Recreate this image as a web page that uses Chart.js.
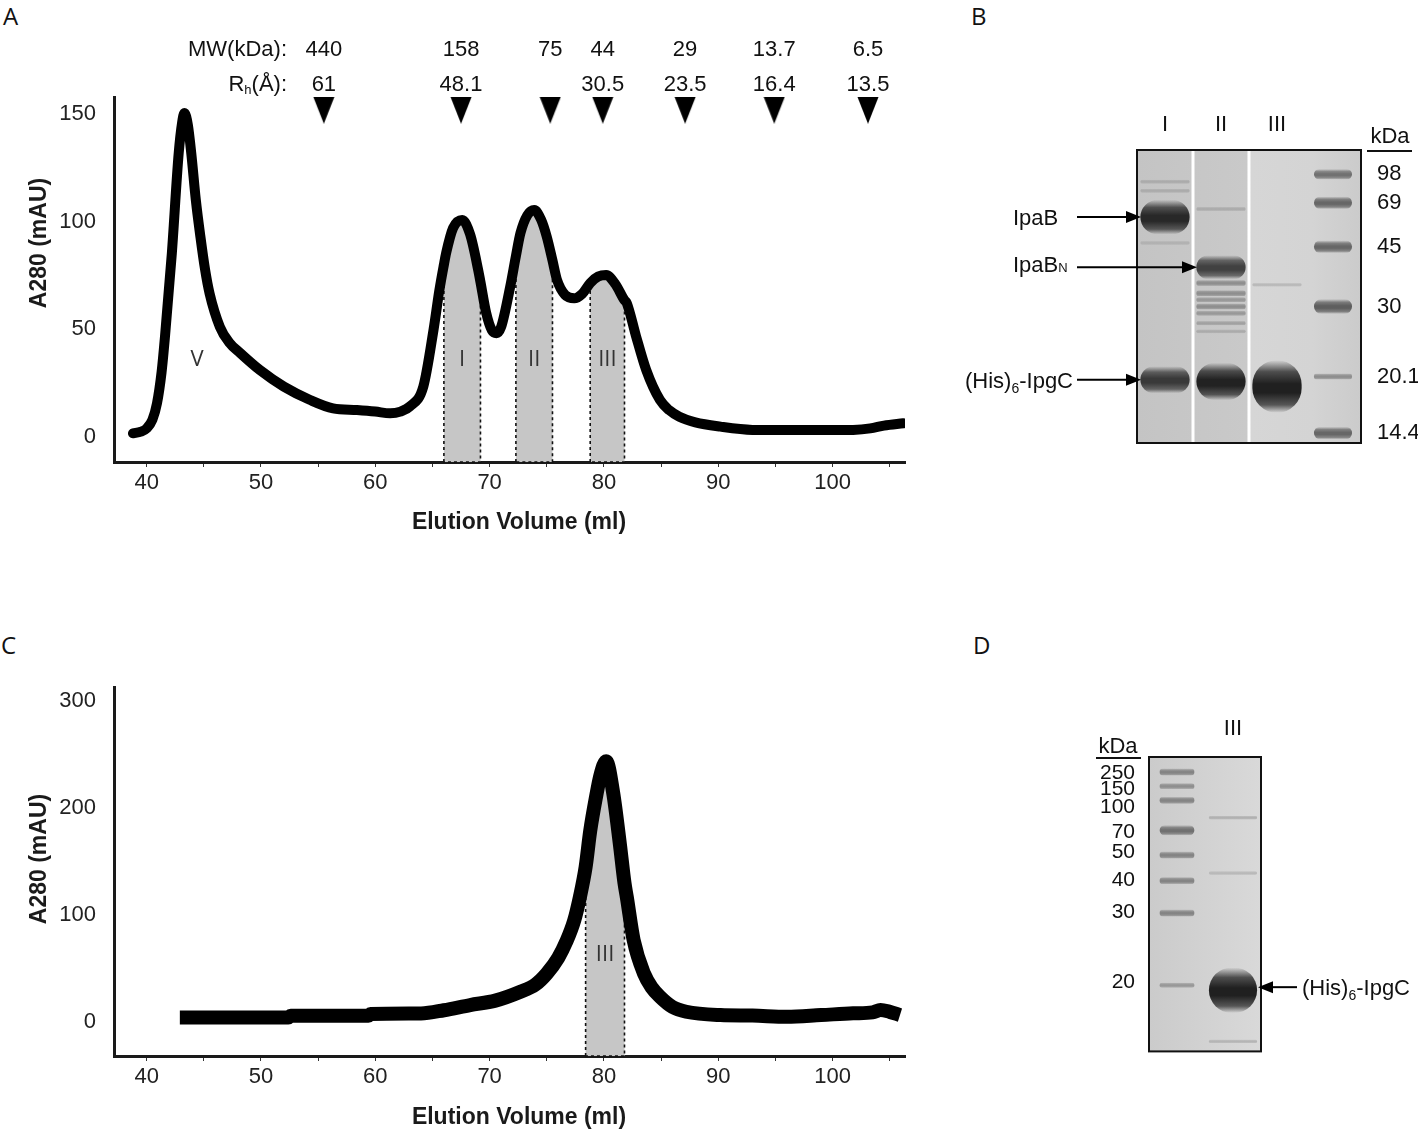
<!DOCTYPE html>
<html><head><meta charset="utf-8">
<script src="https://cdn.jsdelivr.net/npm/chart.js@4/dist/chart.umd.min.js"></script>
<style>
html,body{margin:0;padding:0;background:#fff;}
body{width:1418px;height:1133px;position:relative;overflow:hidden;}
canvas{position:absolute;}
.pl{position:absolute;font-family:'Open Sans','Liberation Sans',sans-serif;font-size:24px;color:#111;line-height:1;}
</style></head><body>
<div class="pl" style="left:3px;top:4px">A</div>
<div class="pl" style="left:971px;top:4px">B</div>
<div class="pl" style="left:1px;top:633px">C</div>
<div class="pl" style="left:973px;top:633px">D</div>
<canvas id="cA" width="950" height="560" style="left:0;top:0;width:950px;height:560px"></canvas>
<canvas id="cC" width="950" height="533" style="left:0;top:600px;width:950px;height:533px"></canvas>
<canvas id="cB" width="468" height="370" style="left:950px;top:100px;width:468px;height:370px"></canvas>
<canvas id="cD" width="358" height="370" style="left:1060px;top:700px;width:358px;height:370px"></canvas>
<script>
// ---------------- DATA ----------------
// Panel A chromatogram (elution volume ml, A280 mAU)
const volA = [38.8,39.5,40.0,40.5,40.9,41.3,41.6,42.2,42.8,43.1,43.3,43.6,43.9,44.3,44.7,45.1,45.5,46.4,47.2,48.2,49.9,52.0,54.3,56.3,58.4,60.0,61.3,62.2,63.0,64.2,65.1,65.6,66.0,66.2,66.8,67.6,68.3,69.0,69.2,69.7,70.2,70.6,71.0,71.8,72.3,72.7,73.3,73.9,74.5,75.0,75.5,75.9,76.6,77.4,78.1,78.8,79.5,80.2,81.0,81.8,82.0,82.8,83.7,84.9,85.7,86.6,88.0,90.2,93.0,96.0,100.0,101.8,103.3,104.5,106.2];
const absA = [1.7,2.5,4.0,8,15.6,30,46.6,85.3,131.8,146,150.5,145,131.8,110,93.0,78,66.7,51.2,44,38.9,31.1,23.4,17.2,13.3,12.5,11.8,11.0,11.8,14.1,23.4,50,68,80,85.5,97,100.8,94,77.6,72,57.6,49.5,48.2,51,69.8,84,94.7,103,105.4,101,93.0,82,72.9,66,64.4,66.5,71.5,74.5,75.2,71,63.5,62.2,47,31.1,17.2,12.5,9.4,6.8,4.8,3.3,3.2,3.2,3.3,4.0,5.3,6.4];
const regStartA = [66.0, 72.3, 78.8];
const regEndA = [69.2, 75.5, 81.8];
const regNameA = ['I', 'II', 'III'];
const peakNameA = ['V'];
const peakVolA = [44.4];
// Gel-filtration standards
const stdVol = [55.5, 67.5, 75.3, 79.9, 87.1, 94.9, 103.1];
const stdMW = ['440', '158', '75', '44', '29', '13.7', '6.5'];
const stdRh = ['61', '48.1', '', '30.5', '23.5', '16.4', '13.5'];
const standardMarkerLevel = 152;

// Panel C chromatogram
const volC = [42.9,47.0,52.4,52.6,59.4,59.6,64.0,66.0,68.3,70.5,72.7,74.0,75.0,76.0,76.7,77.4,77.9,78.4,78.8,79.3,79.7,80.2,80.8,81.4,81.8,82.0,82.6,83.5,84.2,84.9,86.0,87.2,90.2,93.0,96.0,99.0,101.8,103.5,104.2,105.0,105.9];
const absC = [4.2,4.2,4.3,5.8,5.9,7.5,8,11,15.9,20,28.3,35,45.3,60,75,95,117,145,178.6,210,231,244,215,166,130,117,76.6,45.5,32,23.6,14,9.6,6.5,6,4.9,6.5,8.1,9,11.2,9.5,6.5];
const regStartC = [78.4];
const regEndC = [81.8];
const regNameC = ['III'];

// Panel B gel (migration: 0 = top of gel, 100 = bottom)
const gelBLanes = ['I', 'II', 'III', 'M'];
const gelBLaneLabels = ['I', 'II', 'III', ''];
const gelBMarkerKDa = ['98', '69', '45', '30', '20.1', '14.4'];
const gelBMarkerMig = [8.3, 18.0, 33.0, 53.4, 77.3, 96.6];
const gelBMarkerAmt = [0.45, 0.5, 0.5, 0.55, 0.3, 0.5];
const gelBBandLane = ['I','I','I','I','I','II','II','II','II','II','II','II','II','II','II','III','III'];
const gelBBandMig = [10.8,13.9,22.9,31.7,78.4,20.1,40.0,45.4,48.9,51.1,53.4,55.7,59.1,61.9,79.0,46.0,80.7];
const gelBBandAmt = [0.15,0.15,0.83,0.12,0.74,0.15,0.7,0.3,0.3,0.25,0.3,0.25,0.2,0.15,0.86,0.08,1.0];
const gelBArrowBand = [2, 6, 4];   // IpaB, IpaB_N, (His)6-IpgC

// Panel D gel
const gelDLanes = ['M', 'III'];
const gelDLaneLabels = ['', 'III'];
const gelDMarkerKDa = ['250', '150', '100', '70', '50', '40', '30', '20'];
const gelDMarkerMig = [5.1, 9.9, 14.7, 24.9, 33.3, 42.0, 53.0, 77.5];
const gelDMarkerLabelMig = [5.4, 11.0, 17.2, 25.7, 32.4, 42.0, 52.7, 76.4];
const gelDMarkerAmt = [0.35, 0.3, 0.35, 0.45, 0.35, 0.35, 0.35, 0.25];
const gelDBandLane = ['III', 'III', 'III', 'III'];
const gelDBandMig = [20.6, 39.4, 79.2, 96.6];
const gelDBandAmt = [0.12, 0.08, 0.94, 0.1];
const gelDArrowBand = [2];

// ---------------- HELPERS ----------------
const SANS = "'Liberation Sans', Arial, sans-serif";
const OPEN = "'Open Sans', 'Liberation Sans', sans-serif";
Chart.defaults.font.family = SANS;
Chart.defaults.color = '#222';
Chart.defaults.animation = false;

function drawParts(ctx, parts, x, base, align) {
  let total = 0;
  parts.forEach(p => {
    ctx.font = (p.bold ? 'bold ' : '') + p.size + 'px ' + (p.fam || SANS);
    p.w = ctx.measureText(p.t).width; total += p.w;
  });
  let cx = align === 'right' ? x - total : (align === 'center' ? x - total / 2 : x);
  ctx.textAlign = 'left'; ctx.textBaseline = 'alphabetic';
  parts.forEach(p => {
    ctx.font = (p.bold ? 'bold ' : '') + p.size + 'px ' + (p.fam || SANS);
    ctx.fillText(p.t, cx, base + (p.dy || 0)); cx += p.w;
  });
}
function arrow(ctx, x0, x1, y) {
  const dir = x1 > x0 ? 1 : -1;
  ctx.save();
  ctx.strokeStyle = '#000'; ctx.fillStyle = '#000'; ctx.lineWidth = 2;
  ctx.beginPath(); ctx.moveTo(x0, y); ctx.lineTo(x1 - dir * 12, y); ctx.stroke();
  ctx.beginPath(); ctx.moveTo(x1, y); ctx.lineTo(x1 - dir * 15, y - 6); ctx.lineTo(x1 - dir * 15, y + 6); ctx.closePath(); ctx.fill();
  ctx.restore();
}

// Down-pointing triangle used as point style for standards
const triImg = document.createElement('canvas');
triImg.width = 22; triImg.height = 28;
(function () { const t = triImg.getContext('2d'); t.beginPath(); t.moveTo(0, 0); t.lineTo(22, 0); t.lineTo(11, 28); t.closePath(); t.fillStyle = '#000'; t.fill(); })();

function chrom(id, o) {
  const plugin = {
    id: 'chrom_' + id,
    beforeDatasetsDraw(chart) {
      const { ctx, chartArea: a, scales: { x, y } } = chart;
      o.regStart.forEach((s, i) => {
        const e = o.regEnd[i];
        const pts = [];
        o.vol.forEach((v, j) => { if (v >= s - 1e-9 && v <= e + 1e-9) pts.push([x.getPixelForValue(v), y.getPixelForValue(o.abs[j])]); });
        if (!pts.length) return;
        ctx.save();
        ctx.beginPath();
        ctx.moveTo(pts[0][0], a.bottom);
        pts.forEach(p => ctx.lineTo(p[0], p[1]));
        ctx.lineTo(pts[pts.length - 1][0], a.bottom);
        ctx.closePath();
        ctx.fillStyle = '#c6c6c6'; ctx.fill();
        ctx.setLineDash([3, 3]); ctx.lineWidth = 1.6; ctx.strokeStyle = '#111'; ctx.stroke();
        ctx.restore();
      });
    },
    afterDatasetsDraw(chart) {
      const { ctx, scales: { x, y } } = chart;
      ctx.save();
      ctx.fillStyle = '#333'; ctx.textAlign = 'center'; ctx.textBaseline = 'middle';
      ctx.font = '22px ' + OPEN;
      o.regName.forEach((n, i) => {
        ctx.fillText(n, x.getPixelForValue((o.regStart[i] + o.regEnd[i]) / 2), y.getPixelForValue(o.labelLevel));
      });
      (o.peakName || []).forEach((n, i) => {
        ctx.fillText(n, x.getPixelForValue(o.peakVol[i]), y.getPixelForValue(o.labelLevel));
      });
      ctx.restore();
    },
    afterDraw(chart) {
      const { ctx, chartArea: a, scales: { x } } = chart;
      ctx.save();
      ctx.fillStyle = '#1a1a1a';
      ctx.textAlign = 'center'; ctx.textBaseline = 'middle';
      ctx.font = 'bold 23px ' + SANS;
      ctx.fillText('Elution Volume (ml)', a.left + 405, a.bottom + o.xTitleDy);
      ctx.translate(40, a.top + o.yTitleDy);
      ctx.rotate(-Math.PI / 2);
      ctx.font = 'bold 23px ' + SANS;
      ctx.fillText('A280 (mAU)', 0, 0);
      ctx.restore();
      if (o.standards) {
        ctx.save();
        ctx.fillStyle = '#111';
        drawParts(ctx, [{ t: 'MW(kDa):', size: 22 }], 287, 56, 'right');
        drawParts(ctx, [{ t: 'R', size: 22 }, { t: 'h', size: 13, dy: 3 }, { t: '(Å):', size: 22 }], 287, 91, 'right');
        stdVol.forEach((v, i) => {
          const px = x.getPixelForValue(v);
          drawParts(ctx, [{ t: stdMW[i], size: 22 }], px, 56, 'center');
          if (stdRh[i]) drawParts(ctx, [{ t: stdRh[i], size: 22 }], px, 91, 'center');
        });
        ctx.restore();
      }
    }
  };
  return new Chart(document.getElementById(id), {
    type: 'line',
    data: { datasets: o.datasets },
    options: {
      responsive: false, animation: false,
      layout: { padding: o.padding },
      plugins: { legend: { display: false }, tooltip: { enabled: false } },
      scales: {
        x: {
          type: 'linear', min: 37.14, max: 106.34,
          afterFit: s => { s.height = o.xAxisH; },
          ticks: { stepSize: 5, includeBounds: false, autoSkip: false, maxRotation: 0, font: { size: 22 }, color: '#222', padding: 3,
            callback: v => (Math.abs(v % 10) < 1e-6 ? String(v) : '') },
          grid: { display: true, drawOnChartArea: false, drawTicks: true, tickLength: 5, color: '#333', lineWidth: 1 },
          border: { display: true, width: 3, color: '#1a1a1a' }
        },
        y: {
          type: 'linear', min: o.yMin, max: o.yMax,
          afterFit: s => { s.width = 114; },
          ticks: { stepSize: o.yStep, includeBounds: false, font: { size: 22 }, color: '#222', padding: 10 },
          grid: { display: false },
          border: { display: true, width: 3, color: '#1a1a1a' }
        }
      }
    },
    plugins: [plugin]
  });
}

// ---------------- PANEL A ----------------
chrom('cA', {
  vol: volA, abs: absA, regStart: regStartA, regEnd: regEndA, regName: regNameA,
  peakName: peakNameA, peakVol: peakVolA, labelLevel: 35.8,
  padding: { left: 0, top: 97, right: 45, bottom: 0 }, xAxisH: 98,
  yMin: -11.61, yMax: 157.9, yStep: 50, xTitleDy: 61, yTitleDy: 146, standards: true,
  datasets: [
    { data: volA.map((v, i) => ({ x: v, y: absA[i] })), borderColor: '#000', borderWidth: 10, pointRadius: 0,
      cubicInterpolationMode: 'monotone', borderCapStyle: 'round', borderJoinStyle: 'round', fill: false },
    { data: stdVol.map(v => ({ x: v, y: standardMarkerLevel })), showLine: false, pointStyle: triImg, pointRadius: 12,
      pointBackgroundColor: '#000', pointBorderWidth: 0 }
  ]
});

// ---------------- PANEL C ----------------
chrom('cC', {
  vol: volC, abs: absC, regStart: regStartC, regEnd: regEndC, regName: regNameC, labelLevel: 62.6,
  padding: { left: 0, top: 87, right: 45, bottom: 0 }, xAxisH: 77,
  yMin: -31.8, yMax: 313.4, yStep: 100, xTitleDy: 62, yTitleDy: 172, standards: false,
  datasets: [
    { data: volC.map((v, i) => ({ x: v, y: absC[i] })), borderColor: '#000', borderWidth: 14, pointRadius: 0,
      cubicInterpolationMode: 'monotone', borderCapStyle: 'butt', borderJoinStyle: 'round', fill: false }
  ]
});

// ---------------- GELS ----------------
function grayLevel(a) { return Math.round(200 - 168 * Math.min(1, a * 1.15)); }
function bandFill(c, amt) {
  const L = grayLevel(amt);
  const solid = 'rgb(' + L + ',' + L + ',' + L + ')';
  if (!c.raw || !Array.isArray(c.raw.y)) return solid;
  const ys = c.chart.scales.y;
  const y0 = ys.getPixelForValue(c.raw.y[0]), y1 = ys.getPixelForValue(c.raw.y[1]);
  if (!isFinite(y0) || !isFinite(y1) || Math.abs(y1 - y0) < 0.5) return solid;
  const g = c.chart.ctx.createLinearGradient(0, y0, 0, y1);
  const col = al => 'rgba(' + L + ',' + L + ',' + L + ',' + al + ')';
  g.addColorStop(0, col(0));
  g.addColorStop(0.22, col(0.75));
  g.addColorStop(0.45, col(1));
  g.addColorStop(0.62, col(1));
  g.addColorStop(0.85, col(0.7));
  g.addColorStop(1, col(0));
  return g;
}

function gel(id, g) {
  const span = (m, a) => { const h = 1.35 * (3 + 36 * Math.pow(a, 2.5)) * 100 / g.boxPx; return [m - h / 2, m + h / 2]; };
  const plugin = {
    id: 'gel_' + id,
    beforeDatasetsDraw(chart) {
      const { ctx, chartArea: a } = chart;
      ctx.save();
      const grd = ctx.createLinearGradient(a.left, 0, a.right, 0);
      g.bg.forEach(s => grd.addColorStop(s[0], s[1]));
      ctx.fillStyle = grd; ctx.fillRect(a.left, a.top, a.right - a.left, a.bottom - a.top);
      ctx.restore();
    },
    afterDatasetsDraw(chart) {
      const { ctx, chartArea: a, scales: { x } } = chart;
      ctx.save();
      (g.separators || []).forEach(i => {
        const px = (x.getPixelForTick(i) + x.getPixelForTick(i + 1)) / 2;
        ctx.fillStyle = '#fff'; ctx.fillRect(px - 1.5, a.top, 3, a.bottom - a.top);
      });
      ctx.strokeStyle = '#111'; ctx.lineWidth = 2;
      ctx.strokeRect(a.left, a.top, a.right - a.left, a.bottom - a.top);
      ctx.restore();
    },
    afterDraw(chart) { g.extra(chart); }
  };
  new Chart(document.getElementById(id), {
    type: 'bar',
    data: {
      labels: g.lanes,
      datasets: [
        { data: g.bandLane.map((l, i) => ({ x: l, y: span(g.bandMig[i], g.bandAmt[i]) })),
          backgroundColor: c => bandFill(c, g.bandAmt[c.dataIndex] || 0.5), barPercentage: g.sampleW, categoryPercentage: 1, grouped: false,
          borderRadius: 100, borderSkipped: false },
        { data: g.markerMig.map((m, i) => ({ x: g.markerLane, y: span(m, g.markerAmt[i]) })),
          backgroundColor: c => bandFill(c, g.markerAmt[c.dataIndex] || 0.5), barPercentage: g.markerW, categoryPercentage: 1, grouped: false,
          borderRadius: 100, borderSkipped: false }
      ]
    },
    options: {
      responsive: false, animation: false,
      layout: { padding: g.padding },
      plugins: { legend: { display: false }, tooltip: { enabled: false } },
      scales: {
        x: { type: 'category', position: 'top', offset: true,
          afterFit: s => { s.height = g.xAxisH; },
          ticks: { font: { size: 22 }, color: '#111', padding: g.xPad, maxRotation: 0, callback: (v, i) => g.laneLabels[i] },
          grid: { display: false }, border: { display: false } },
        y: { type: 'linear', position: g.yPos, reverse: true, min: 0, max: 100,
          afterFit: s => { s.width = g.yAxisW; },
          afterBuildTicks: s => { s.ticks = g.tickMig.map(v => ({ value: v })); },
          ticks: { autoSkip: false, font: { size: g.tickSize, family: g.tickFam }, color: '#111', padding: g.yPad,
            callback: (v, i) => g.markerKDa[i] },
          grid: { display: false }, border: { display: false } }
      }
    },
    plugins: [plugin]
  });
}

// Panel B
gel('cB', {
  lanes: gelBLanes, laneLabels: gelBLaneLabels, markerLane: 'M',
  markerKDa: gelBMarkerKDa, markerMig: gelBMarkerMig, markerAmt: gelBMarkerAmt, tickMig: gelBMarkerMig,
  bandLane: gelBBandLane, bandMig: gelBBandMig, bandAmt: gelBBandAmt,
  boxPx: 293, sampleW: 0.88, markerW: 0.68, separators: [0, 1],
  bg: [[0, '#c4c4c4'], [0.49, '#c9c9c9'], [0.51, '#d6d6d6'], [0.78, '#d4d4d4'], [1, '#cbcbcb']],
  padding: { left: 187, top: 0, right: 0, bottom: 27 }, xAxisH: 50, xPad: 4, yPos: 'right', yAxisW: 57, yPad: 8,
  tickSize: 22, tickFam: SANS,
  extra(chart) {
    const { ctx, chartArea: a, scales: { x, y } } = chart;
    ctx.save();
    ctx.fillStyle = '#111';
    drawParts(ctx, [{ t: 'kDa', size: 22 }], a.right + 29, a.top - 7, 'center');
    ctx.fillRect(a.right + 6, a.top, 45, 2);
    const labels = [
      { parts: [{ t: 'IpaB', size: 22 }], x: a.left - 124, align: 'left' },
      { parts: [{ t: 'IpaB', size: 22 }, { t: 'N', size: 13 }], x: a.left - 124, align: 'left' },
      { parts: [{ t: '(His)', size: 22 }, { t: '6', size: 14, dy: 5 }, { t: '-IpgC', size: 22 }], x: a.left - 64, align: 'right' }
    ];
    gelBArrowBand.forEach((b, k) => {
      const py = y.getPixelForValue(gelBBandMig[b]);
      const lane = gelBLanes.indexOf(gelBBandLane[b]);
      const tip = x.getPixelForTick(lane) - 24;
      arrow(ctx, a.left - 60, tip, py);
      ctx.fillStyle = '#111';
      drawParts(ctx, labels[k].parts, labels[k].x, py + 8 - (k === 1 ? 3 : 0), labels[k].align);
    });
    ctx.restore();
  }
});

// Panel D
gel('cD', {
  lanes: gelDLanes, laneLabels: gelDLaneLabels, markerLane: 'M',
  markerKDa: gelDMarkerKDa, markerMig: gelDMarkerMig, markerAmt: gelDMarkerAmt, tickMig: gelDMarkerLabelMig,
  bandLane: gelDBandLane, bandMig: gelDBandMig, bandAmt: gelDBandAmt,
  boxPx: 296, sampleW: 0.86, markerW: 0.62, separators: [],
  bg: [[0, '#cbcbcb'], [0.5, '#d2d2d2'], [1, '#d9d9d9']],
  padding: { left: 0, top: 0, right: 157, bottom: 17 }, xAxisH: 57, xPad: 7, yPos: 'left', yAxisW: 89, yPad: 6,
  tickSize: 21, tickFam: "'Liberation Sans Narrow', 'Liberation Sans', Arial, sans-serif",
  extra(chart) {
    const { ctx, chartArea: a, scales: { y } } = chart;
    ctx.save();
    ctx.fillStyle = '#111';
    drawParts(ctx, [{ t: 'kDa', size: 22 }], a.left - 31, a.top - 4, 'center');
    ctx.fillRect(a.left - 53, a.top, 45, 2);
    gelDArrowBand.forEach(b => {
      const py = y.getPixelForValue(gelDBandMig[b]) - 3;
      arrow(ctx, a.right + 36, a.right - 3, py);
      ctx.fillStyle = '#111';
      drawParts(ctx, [{ t: '(His)', size: 22 }, { t: '6', size: 14, dy: 5 }, { t: '-IpgC', size: 22 }], a.right + 41, py + 8, 'left');
    });
    ctx.restore();
  }
});
</script>
</body></html>
